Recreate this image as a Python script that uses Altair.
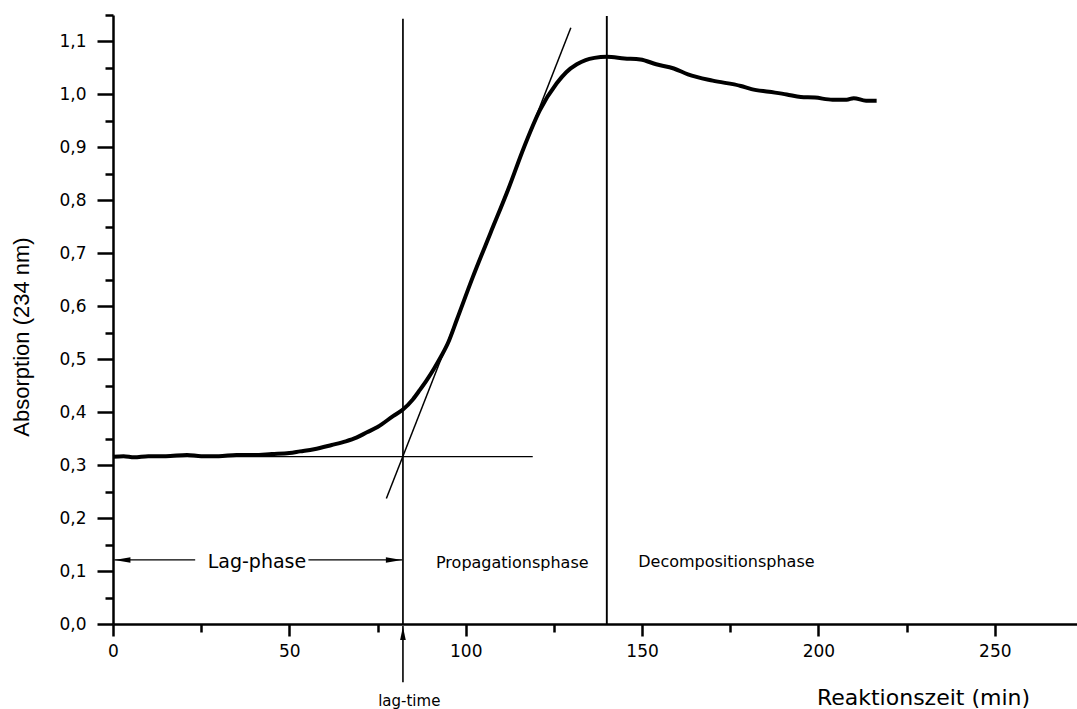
import altair as alt
import pandas as pd

# ---- measured curve (reaction time in min, absorption at 234 nm) ----
time_min = [0, 3, 6, 10, 15, 21, 25, 30, 35, 40, 45, 50, 53, 57, 62, 66, 69, 72, 75,
            79.5, 82.2, 85, 87, 89, 91, 93, 95, 97.5, 102, 107, 112, 116.5, 121, 125.8, 128.5,
            131.5, 134, 136.5, 140, 145, 149.5, 154, 159, 163, 170, 178, 181, 186, 191,
            195, 199, 204, 208, 210, 213.5, 216.5]
absorb = [0.316, 0.317, 0.315, 0.317, 0.317, 0.319, 0.317, 0.317, 0.319, 0.319, 0.321,
          0.323, 0.326, 0.330, 0.338, 0.345, 0.352, 0.362, 0.372, 0.393, 0.405, 0.424,
          0.442, 0.461, 0.482, 0.505, 0.531, 0.575, 0.655, 0.738, 0.820, 0.900, 0.970, 1.021, 1.042,
          1.057, 1.065, 1.069, 1.071, 1.068, 1.066, 1.057, 1.049, 1.038, 1.026, 1.016,
          1.010, 1.005, 1.000, 0.995, 0.994, 0.990, 0.990, 0.993, 0.988, 0.988]

# ---- construction lines (lag line, decomposition line, baseline, tangent, arrow shafts) ----
seg_x = [82.2, 140.0, 0.0, 77.5, 0.4, 55.4, 82.2]
seg_y = [0.0, 0.0, 0.316, 0.237, 0.121, 0.121, -0.004]
seg_x2 = [82.2, 140.0, 119.0, 129.8, 23.3, 82.0, 82.2]
seg_y2 = [1.143, 1.148, 0.316, 1.126, 0.121, 0.121, -0.11]
seg_w = [1.7, 1.9, 1.2, 1.5, 1.3, 1.3, 1.6]

# ---- arrow heads ----
head_x = [0.4, 81.9, 82.2]
head_y = [0.121, 0.121, -0.005]
head_shape = ["M0,0L2,-0.34L2,0.34Z", "M0,0L-2,-0.34L-2,0.34Z", "M0,0L-0.42,2L0.42,2Z"]
head_size = [256, 256, 180]

# ---- annotation texts ----
label_text = ["Lag-phase", "Propagationsphase", "Decompositionsphase", "lag-time"]
label_x = [40.8, 113.2, 173.9, 84.0]
label_y = [0.105, 0.105, 0.108, -0.154]
label_size = [19, 16, 16, 15]

# ---- axis ticks ----
x_ticks = [0, 25, 50, 75, 100, 125, 150, 175, 200, 225, 250]
y_ticks = [0.0, 0.05, 0.1, 0.15, 0.2, 0.25, 0.3, 0.35, 0.4, 0.45, 0.5, 0.55, 0.6,
           0.65, 0.7, 0.75, 0.8, 0.85, 0.9, 0.95, 1.0, 1.05, 1.1, 1.15]

curve_df = pd.DataFrame({"t": time_min, "a": absorb})
seg_df = pd.DataFrame({"x": seg_x, "y": seg_y, "x2": seg_x2, "y2": seg_y2, "w": seg_w})
head_df = pd.DataFrame({"x": head_x, "y": head_y, "shape": head_shape, "size": head_size})
text_df = pd.DataFrame({"x": label_x, "y": label_y, "text": label_text, "fs": label_size})

x_scale = alt.Scale(domain=[0, 273.3], nice=False, zero=False)
y_scale = alt.Scale(domain=[0, 1.15], nice=False, zero=False)

x_axis = alt.Axis(
    values=x_ticks,
    labelExpr="datum.value % 50 === 0 ? datum.label : ''",
    tickSize={"condition": {"test": "datum.value % 50 === 0", "value": 12}, "value": 8},
    tickWidth=2.5, tickColor="black",
    domainWidth=2.5, domainColor="black",
    grid=False, labelOverlap=False, labelFlush=False,
    labelFont="DejaVu Sans", labelFontSize=17, labelColor="black", labelPadding=7,
    title="Reaktionszeit (min)", titleFont="DejaVu Sans", titleFontSize=22,
    titleFontWeight="normal", titleColor="black",
    titleX=810, titleY=80, titleAlign="center", titleBaseline="alphabetic",
)
y_axis = alt.Axis(
    values=y_ticks,
    labelExpr="round(datum.value*20) % 2 === 0 ? replace(format(datum.value, '.1f'), '.', ',') : ''",
    tickSize={"condition": {"test": "round(datum.value*20) % 2 === 0", "value": 16}, "value": 8},
    tickWidth=2.5, tickColor="black",
    domainWidth=2.5, domainColor="black",
    grid=False, labelOverlap=False, labelFlush=False,
    labelFont="DejaVu Sans", labelFontSize=17, labelColor="black", labelPadding=11,
    title="Absorption (234 nm)", titleFont="Liberation Sans", titleFontSize=22,
    titleFontWeight="normal", titleColor="black",
    titleX=-92, titleY=321.5, titleAlign="center", titleBaseline="middle",
)

curve = alt.Chart(curve_df).mark_line(
    color="black", strokeWidth=4, strokeJoin="round", interpolate="monotone"
).encode(
    x=alt.X("t:Q", scale=x_scale, axis=x_axis),
    y=alt.Y("a:Q", scale=y_scale, axis=y_axis),
)

segs = alt.Chart(seg_df).mark_rule(color="black").encode(
    x=alt.X("x:Q", scale=x_scale, axis=x_axis),
    y=alt.Y("y:Q", scale=y_scale, axis=y_axis),
    x2="x2:Q",
    y2="y2:Q",
    strokeWidth=alt.StrokeWidth("w:Q", scale=None),
)

heads = alt.Chart(head_df).mark_point(filled=True, color="black", opacity=1, strokeWidth=0).encode(
    x=alt.X("x:Q", scale=x_scale, axis=x_axis),
    y=alt.Y("y:Q", scale=y_scale, axis=y_axis),
    shape=alt.Shape("shape:N", scale=None),
    size=alt.Size("size:Q", scale=None),
)

texts = alt.Chart(text_df).mark_text(
    font="DejaVu Sans", color="black", align="center", baseline="alphabetic"
).encode(
    x=alt.X("x:Q", scale=x_scale, axis=x_axis),
    y=alt.Y("y:Q", scale=y_scale, axis=y_axis),
    text="text:N",
    size=alt.Size("fs:Q", scale=None),
)

chart = alt.layer(curve, segs, heads, texts).properties(
    width=964, height=609,
    autosize=alt.AutoSizeParams(type="none"),
    padding={"left": 113, "top": 15, "right": 0, "bottom": 85},
    background="white",
).configure_view(stroke="transparent")

chart.save("out.html", embed_options={"renderer": "svg", "actions": False})
